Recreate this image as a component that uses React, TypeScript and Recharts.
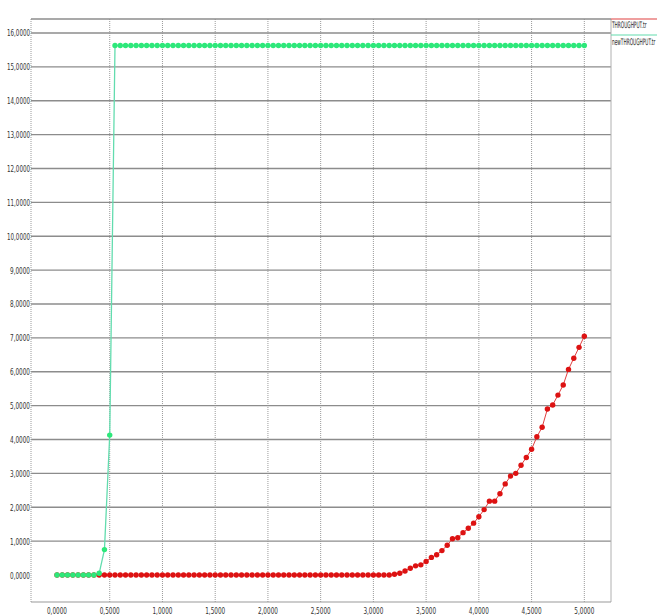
import React from "react";
import { LineChart, Line, XAxis, YAxis, ReferenceLine } from "recharts";

const times = [
  0.0, 0.05, 0.1, 0.15, 0.2, 0.25, 0.3, 0.35, 0.4, 0.45,
  0.5, 0.55, 0.6, 0.65, 0.7, 0.75, 0.8, 0.85, 0.9, 0.95,
  1.0, 1.05, 1.1, 1.15, 1.2, 1.25, 1.3, 1.35, 1.4, 1.45,
  1.5, 1.55, 1.6, 1.65, 1.7, 1.75, 1.8, 1.85, 1.9, 1.95,
  2.0, 2.05, 2.1, 2.15, 2.2, 2.25, 2.3, 2.35, 2.4, 2.45,
  2.5, 2.55, 2.6, 2.65, 2.7, 2.75, 2.8, 2.85, 2.9, 2.95,
  3.0, 3.05, 3.1, 3.15, 3.2, 3.25, 3.3, 3.35, 3.4, 3.45,
  3.5, 3.55, 3.6, 3.65, 3.7, 3.75, 3.8, 3.85, 3.9, 3.95,
  4.0, 4.05, 4.1, 4.15, 4.2, 4.25, 4.3, 4.35, 4.4, 4.45,
  4.5, 4.55, 4.6, 4.65, 4.7, 4.75, 4.8, 4.85, 4.9, 4.95,
  5.0,
];

const throughput = [
  0, 0, 0, 0, 0, 0, 0, 0, 0, 0,
  0, 0, 0, 0, 0, 0, 0, 0, 0, 0,
  0, 0, 0, 0, 0, 0, 0, 0, 0, 0,
  0, 0, 0, 0, 0, 0, 0, 0, 0, 0,
  0, 0, 0, 0, 0, 0, 0, 0, 0, 0,
  0, 0, 0, 0, 0, 0, 0, 0, 0, 0,
  0, 0, 0, 0, 0.02, 0.05, 0.12, 0.2, 0.27, 0.3,
  0.4, 0.52, 0.6, 0.72, 0.88, 1.07, 1.1, 1.25, 1.38, 1.53,
  1.72, 1.93, 2.18, 2.18, 2.4, 2.69, 2.92, 3.0, 3.24, 3.47,
  3.71, 4.08, 4.36, 4.9, 5.02, 5.31, 5.61, 6.07, 6.4, 6.72,
  7.05,
];

const newThroughput = [
  0, 0, 0, 0, 0, 0, 0, 0, 0.05, 0.75,
  4.13, 15.63, 15.63, 15.63, 15.63, 15.63, 15.63, 15.63, 15.63, 15.63,
  15.63, 15.63, 15.63, 15.63, 15.63, 15.63, 15.63, 15.63, 15.63, 15.63,
  15.63, 15.63, 15.63, 15.63, 15.63, 15.63, 15.63, 15.63, 15.63, 15.63,
  15.63, 15.63, 15.63, 15.63, 15.63, 15.63, 15.63, 15.63, 15.63, 15.63,
  15.63, 15.63, 15.63, 15.63, 15.63, 15.63, 15.63, 15.63, 15.63, 15.63,
  15.63, 15.63, 15.63, 15.63, 15.63, 15.63, 15.63, 15.63, 15.63, 15.63,
  15.63, 15.63, 15.63, 15.63, 15.63, 15.63, 15.63, 15.63, 15.63, 15.63,
  15.63, 15.63, 15.63, 15.63, 15.63, 15.63, 15.63, 15.63, 15.63, 15.63,
  15.63, 15.63, 15.63, 15.63, 15.63, 15.63, 15.63, 15.63, 15.63, 15.63,
  15.63,
];

const xTicks = [0, 0.5, 1, 1.5, 2, 2.5, 3, 3.5, 4, 4.5, 5];
const xTickLabels = ["0,0000", "0,5000", "1,0000", "1,5000", "2,0000", "2,5000", "3,0000", "3,5000", "4,0000", "4,5000", "5,0000"];
const yTicks = [0, 1, 2, 3, 4, 5, 6, 7, 8, 9, 10, 11, 12, 13, 14, 15, 16];
const yTickLabels = ["0,0000", "1,0000", "2,0000", "3,0000", "4,0000", "5,0000", "6,0000", "7,0000", "8,0000", "9,0000", "10,0000", "11,0000", "12,0000", "13,0000", "14,0000", "15,0000", "16,0000"];
const xGrid = [0.5, 1, 1.5, 2, 2.5, 3, 3.5, 4, 4.5, 5];
const yGrid = [1, 2, 3, 4, 5, 6, 7, 8, 9, 10, 11, 12, 13, 14, 15, 16];
const seriesNames = ["THROUGHPUT.tr", "newTHROUGHPUT.tr"];

const X_DOMAIN: [number, number] = [-0.2465, 5.253];
const Y_DOMAIN: [number, number] = [-0.797, 16.413];

const data = times.map((t, i) => ({ t, a: throughput[i], b: newThroughput[i] }));

const FONT = "'DejaVu Sans Condensed', 'DejaVu Sans', sans-serif";

const XTick = (props: any) => {
  const { x, payload } = props;
  const idx = xTicks.indexOf(payload.value);
  const label = idx >= 0 ? xTickLabels[idx] : String(payload.value);
  return (
    <text x={x} y={614} textAnchor="middle" fontSize={9.5} fill="#333" fontFamily={FONT}
      textLength={20} lengthAdjust="spacingAndGlyphs">
      {label}
    </text>
  );
};

const YTick = (props: any) => {
  const { y, payload } = props;
  const idx = yTicks.indexOf(payload.value);
  const label = idx >= 0 ? yTickLabels[idx] : String(payload.value);
  const w = label.length > 6 ? 23 : 20;
  return (
    <text x={30 - w} y={y + 3.5} textAnchor="start" fontSize={9.5} fill="#333" fontFamily={FONT}
      textLength={w} lengthAdjust="spacingAndGlyphs">
      {label}
    </text>
  );
};

export default function App() {
  return (
    <div style={{ position: "absolute", left: 0, top: 0, width: 657, height: 616, background: "#fff" }}>
      <LineChart width={657} height={616} data={data}
        margin={{ top: 19, right: 46, bottom: 13, left: 30 }}>
        <XAxis dataKey="t" type="number" domain={X_DOMAIN} ticks={xTicks} height={1}
          axisLine={false} tickLine={false} tick={<XTick />} interval={0} allowDataOverflow />
        <YAxis type="number" domain={Y_DOMAIN} ticks={yTicks} width={1}
          axisLine={false} tickLine={false} tick={<YTick />} interval={0} allowDataOverflow />
        {xGrid.map((v) => (
          <ReferenceLine key={"vx" + v} x={v} stroke="#9a9a9a" strokeWidth={1} strokeDasharray="1 1" ifOverflow="visible" />
        ))}
        {yGrid.map((v) => (
          <ReferenceLine key={"hy" + v} y={v} stroke="#8c8c8c" strokeWidth={1.4} ifOverflow="visible" />
        ))}
        <ReferenceLine x={X_DOMAIN[0]} stroke="#9a9a9a" strokeWidth={1} strokeDasharray="1 1" ifOverflow="visible" />
        <ReferenceLine x={X_DOMAIN[1]} stroke="#b0b0b0" strokeWidth={1} ifOverflow="visible" />
        <ReferenceLine y={Y_DOMAIN[1]} stroke="#8c8c8c" strokeWidth={1.4} ifOverflow="visible" />
        <ReferenceLine y={Y_DOMAIN[0]} stroke="#9a9a9a" strokeWidth={1.2} ifOverflow="visible" />
        <Line dataKey="a" name={seriesNames[0]} type="linear" stroke="#e04040" strokeWidth={1}
          dot={{ r: 2.7, fill: "#dd1212", stroke: "none" }} activeDot={false} isAnimationActive={false} />
        <Line dataKey="b" name={seriesNames[1]} type="linear" stroke="#62dcae" strokeWidth={1.3}
          dot={{ r: 2.7, fill: "#2de87a", stroke: "none" }} activeDot={false} isAnimationActive={false} />
      </LineChart>
      <svg width={657} height={616} style={{ position: "absolute", left: 0, top: 0, pointerEvents: "none" }}>
        <line x1={611} y1={19} x2={657} y2={19} stroke="#e04040" strokeWidth={1.2} />
        <text transform="translate(612,28) scale(0.53,1)" fontSize={9} fill="#222" fontFamily={FONT}>
          {seriesNames[0]}
        </text>
        <line x1={611} y1={35} x2={657} y2={35} stroke="#62dcae" strokeWidth={1.2} />
        <text transform="translate(612,45) scale(0.53,1)" fontSize={9} fill="#222" fontFamily={FONT}>
          {seriesNames[1]}
        </text>
      </svg>
    </div>
  );
}
